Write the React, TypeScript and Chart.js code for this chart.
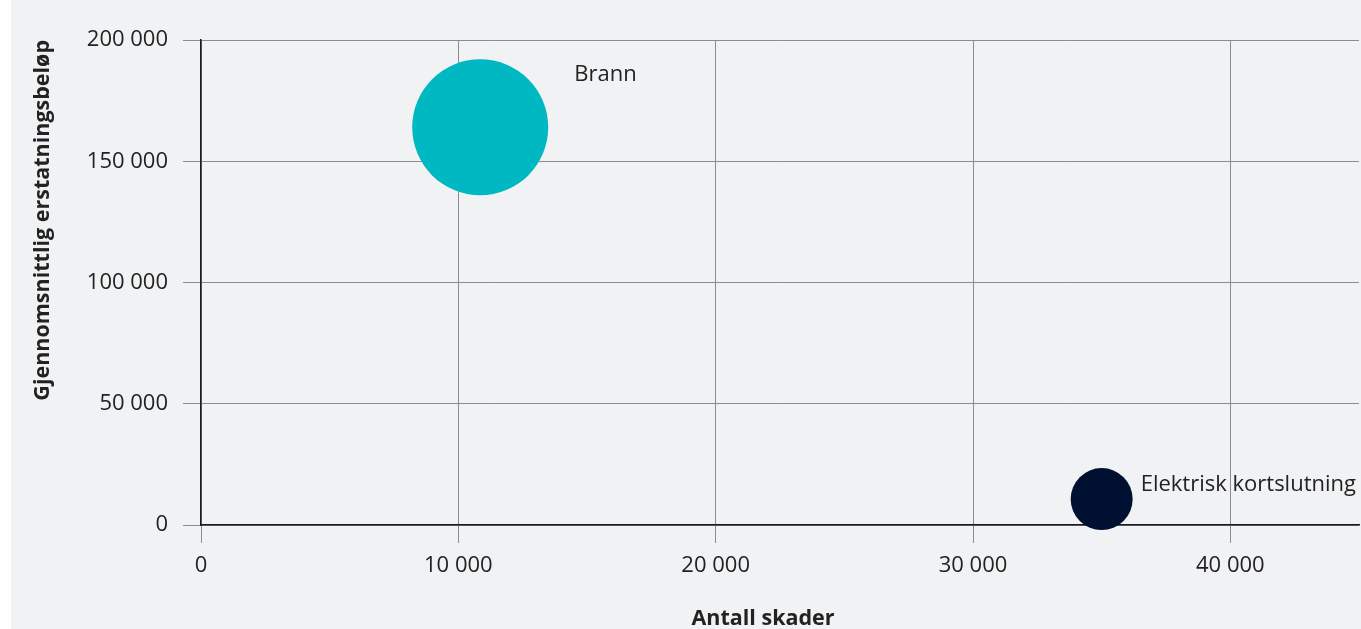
import React, { useEffect, useRef } from "react";
import { Chart, registerables } from "chart.js";

Chart.register(...registerables);

// Skadetyper og verdier
const categories = ["Brann", "Elektrisk kortslutning"];
const antallSkader = [10850, 35000];
const snittErstatning = [164000, 10700];
const bobleRadius = [68, 31];
const bobleFarger = ["#00b8c2", "#001030"];

const xTicks = [0, 10000, 20000, 30000, 40000];
const yTicks = [0, 50000, 100000, 150000, 200000];

const xTitle = "Antall skader";
const yTitle = "Gjennomsnittlig erstatningsbeløp";

const FONT = "'Open Sans', 'Noto Sans', sans-serif";
const TEXT = "#222222";
const GRID = "#8c8c8c";
const AXIS = "#1a1a1a";

const fmt = (v: number) => String(v).replace(/\B(?=(\d{3})+(?!\d))/g, " ");

// Navn ved siden av hver boble
const labelOffsets = [
  { dx: 94, dy: -53 },
  { dx: 39, dy: -14 },
];

const bubbleLabels = {
  id: "bubbleLabels",
  afterDatasetsDraw(chart: any) {
    const meta = chart.getDatasetMeta(0);
    const ctx = chart.ctx;
    ctx.save();
    ctx.font = `22px ${FONT}`;
    ctx.fillStyle = TEXT;
    ctx.textAlign = "left";
    ctx.textBaseline = "middle";
    meta.data.forEach((el: any, i: number) => {
      const o = labelOffsets[i];
      ctx.fillText(categories[i], el.x + o.dx, el.y + o.dy);
    });
    ctx.restore();
  },
};

// Tittel under x-aksen, litt til venstre for midten av plottet
const xAxisTitle = {
  id: "xAxisTitle",
  afterDraw(chart: any) {
    const { ctx, chartArea, height } = chart;
    ctx.save();
    ctx.font = `bold 21.5px ${FONT}`;
    ctx.fillStyle = TEXT;
    ctx.textAlign = "center";
    ctx.textBaseline = "middle";
    ctx.fillText(xTitle, (chartArea.left + chartArea.right) / 2 - 17, height - 10);
    ctx.restore();
  },
};

export default function App() {
  const ref = useRef<HTMLCanvasElement | null>(null);

  useEffect(() => {
    document.body.style.margin = "0";
    if (!ref.current) return;
    const chart = new Chart(ref.current, {
      type: "bubble",
      data: {
        datasets: [
          {
            label: "Skadetyper",
            data: categories.map((_, i) => ({
              x: antallSkader[i],
              y: snittErstatning[i],
              r: bobleRadius[i],
            })),
            backgroundColor: bobleFarger,
            borderWidth: 0,
            hoverRadius: 0,
            clip: false as any,
          },
        ],
      },
      options: {
        responsive: false,
        animation: false,
        events: [],
        layout: { autoPadding: false, padding: { top: 40, right: 2, left: 0, bottom: 0 } },
        plugins: {
          legend: { display: false },
          tooltip: { enabled: false },
        },
        scales: {
          x: {
            type: "linear",
            min: 0,
            max: 45000,
            afterBuildTicks: (axis: any) => {
              axis.ticks = xTicks.map((v) => ({ value: v }));
            },
            afterFit: (axis: any) => {
              axis.height = 104;
              axis.paddingLeft = 0;
              axis.paddingRight = 0;
            },
            grid: { color: GRID, lineWidth: 1, tickLength: 18 },
            border: { color: AXIS, width: 1.5 },
            ticks: {
              padding: 10,
              color: TEXT,
              font: { family: FONT, size: 22 },
              maxRotation: 0,
              callback: (v: any) => fmt(Number(v)),
            },
            title: { display: false },
          },
          y: {
            type: "linear",
            min: 0,
            max: 200000,
            afterBuildTicks: (axis: any) => {
              axis.ticks = yTicks.map((v) => ({ value: v }));
            },
            afterFit: (axis: any) => {
              axis.width = 190;
              axis.paddingTop = 0;
              axis.paddingBottom = 0;
            },
            grid: { color: GRID, lineWidth: 1, tickLength: 18 },
            border: { color: AXIS, width: 1.5 },
            ticks: {
              padding: 15,
              color: TEXT,
              font: { family: FONT, size: 22 },
              callback: (v: any) => fmt(Number(v)),
            },
            title: {
              display: true,
              text: yTitle,
              align: "end",
              color: TEXT,
              font: { family: FONT, size: 21.5, weight: "bold", lineHeight: 1 },
              padding: { top: 21, bottom: 0 },
            },
          },
        },
      },
      plugins: [bubbleLabels, xAxisTitle],
    });
    return () => chart.destroy();
  }, []);

  return (
    <div style={{ position: "relative", width: 1361, height: 629, background: "#ffffff" }}>
      <div
        style={{
          position: "absolute",
          left: 11,
          top: 0,
          width: 1350,
          height: 629,
          background: "#f1f2f4",
        }}
      >
        <canvas ref={ref} width={1350} height={629} style={{ display: "block" }} />
      </div>
    </div>
  );
}
